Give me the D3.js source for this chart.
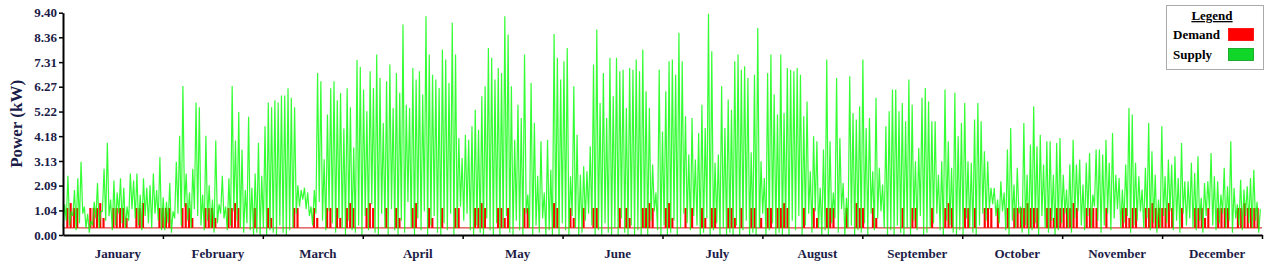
<!DOCTYPE html>
<html>
<head>
<meta charset="utf-8">
<script src="https://cdn.jsdelivr.net/npm/d3@7"></script>
<style>
  body { margin: 0; background: #fff; }
  svg { display: block; }
  text { font-family: "Liberation Serif", "Times New Roman", serif; }
</style>
</head>
<body>
<svg id="chart" width="1270" height="276"></svg>
<script>
const months = ["January", "February", "March", "April", "May", "June",
  "July", "August", "September", "October", "November", "December"];
const yTicks = [0, 1.04, 2.09, 3.13, 4.18, 5.22, 6.27, 7.31, 8.36, 9.40];

// daily supply peak (kW)
const supplyPeakJan = [1.3, 2.5, 1.0, 1.9, 2.4, 3.1, 1.2, 0.9, 0.6, 1.4, 2.2, 1.0, 2.8, 3.9, 1.5, 2.3, 1.8, 2.4, 2.0, 1.2, 2.6, 2.3, 2.6, 1.7, 2.4, 2.0, 2.1, 2.6, 1.9, 3.3, 1.6];
const supplyPeakFeb = [1.4, 2.2, 1.0, 3.1, 4.2, 6.3, 2.6, 1.8, 2.8, 5.6, 5.4, 1.7, 4.2, 2.1, 1.5, 4.0, 1.3, 2.5, 1.2, 2.4, 6.3, 4.0, 5.2, 3.6, 1.9, 5.0, 2.0, 2.6];
const supplyPeakMar = [3.9, 2.5, 4.6, 5.6, 5.4, 5.7, 5.6, 5.9, 5.9, 6.2, 5.8, 5.4, 2.1, 1.9, 2.0, 1.8, 1.2, 1.9, 6.85, 6.5, 3.2, 5.1, 6.2, 6.5, 5.7, 6.0, 4.5, 6.2, 5.4, 3.7, 7.4];
const supplyPeakApr = [7.1, 6.15, 5.23, 6.92, 6.22, 7.63, 6.64, 4.74, 6.5, 7.21, 5.37, 6.85, 6.01, 8.9, 5.51, 5.37, 7.06, 6.57, 6.92, 5.94, 9.25, 7.63, 6.78, 6.57, 6.22, 7.84, 7.42, 6.43, 8.97, 7.63];
const supplyPeakMay = [4.1, 3.26, 4.24, 4.03, 4.6, 5.3, 4.45, 5.87, 6.29, 7.91, 7.49, 6.57, 7.06, 6.85, 9.25, 8.48, 6.29, 4.03, 5.51, 4.95, 7.63, 1.71, 6.43, 4.74, 2.5, 3.96, 1.8, 4.03, 2.76, 8.5, 7.5];
const supplyPeakJun = [6.57, 7.35, 7.91, 2.48, 6.29, 4.24, 2.55, 2.91, 2.69, 3.75, 7.21, 8.69, 5.58, 6.85, 4.95, 7.49, 5.87, 7.49, 6.92, 6.99, 5.37, 7.06, 6.99, 7.42, 6.92, 7.84, 6.08, 5.37, 2.98, 1.8];
const supplyPeakJul = [6.99, 4.38, 6.08, 7.35, 7.42, 6.78, 8.55, 7.35, 5.02, 3.4, 4.95, 3.19, 4.31, 5.51, 4.52, 9.36, 7.77, 3.05, 3.4, 6.29, 4.52, 5.73, 5.3, 7.35, 7.63, 6.99, 7.14, 6.64, 3.5, 6.78, 8.75];
const supplyPeakAug = [3.12, 2.41, 6.85, 7.63, 5.94, 5.09, 7.63, 5.16, 7.06, 6.99, 6.92, 7.06, 6.78, 5.02, 5.65, 2.69, 4.17, 3.96, 2.0, 3.61, 7.42, 3.96, 1.8, 6.64, 4.1, 2.2, 1.57, 6.71, 5.16, 4.88, 5.44];
const supplyPeakSep = [7.42, 4.52, 4.95, 2.69, 5.8, 2.84, 2.13, 4.6, 5.23, 6.15, 6.15, 5.23, 5.58, 4.81, 6.57, 5.51, 3.12, 3.68, 5.8, 6.22, 5.65, 4.81, 4.81, 2.55, 3.12, 6.15, 3.96, 2.84, 6.01, 4.17];
const supplyPeakOct = [4.74, 5.58, 3.12, 3.05, 4.88, 5.58, 4.81, 3.54, 3.12, 2.0, 1.99, 1.5, 2.27, 1.8, 3.61, 4.52, 2.13, 2.84, 1.2, 4.74, 2.55, 3.82, 5.44, 3.75, 4.24, 2.98, 3.96, 3.96, 2.55, 3.89, 4.1];
const supplyPeakNov = [2.55, 1.92, 2.98, 4.03, 2.98, 3.19, 2.13, 3.05, 3.47, 1.71, 3.61, 3.61, 3.4, 4.03, 3.05, 4.31, 2.55, 2.41, 1.92, 2.98, 5.37, 5.09, 3.05, 2.48, 1.92, 2.84, 4.74, 3.54, 2.55, 1.5];
const supplyPeakDec = [4.6, 2.48, 3.19, 2.98, 3.33, 2.41, 3.89, 2.27, 2.27, 3.05, 2.62, 3.33, 1.57, 2.2, 2.27, 3.47, 2.48, 2.27, 1.71, 2.84, 2.06, 3.96, 1.99, 1.3, 2.34, 1.92, 2.06, 2.41, 2.76, 1.4, 1.1];

// daily supply low (kW)
const supplyLowJan = [0.3, 0.6, 0.4, 0.8, 0.2, 0.5, 0.9, 0.3, 0.1, 0.4, 0.7, 0.3, 1.0, 0.6, 0.8, 0.2, 0.4, 0.9, 0.5, 0.3, 0.6, 1.1, 0.7, 0.4, 0.2, 0.8, 0.5, 0.3, 0.9, 0.6, 0.2];
const supplyLowFeb = [0.2, 0.5, 0.1, 0.7, 0.9, 0.4, 1.2, 0.6, 0.3, 1.1, 0.8, 0.4, 0.2, 0.6, 0.3, 0.1, 0.5, 0.9, 0.7, 0.2, 0.4, 1.0, 0.6, 0.3, 0.1, 0.5, 0.2, 0.0];
const supplyLowMar = [0.1, 0.0, 0.3, 0.0, 0.2, 0.1, 0.0, 0.4, 0.1, 0.0, 0.2, 0.3, 0.9, 1.2, 1.5, 1.1, 0.8, 0.4, 0.9, 1.4, 0.6, 0.2, 1.0, 0.5, 0.1, 0.7, 0.3, 0.0, 0.6, 0.2, 0.1];
const supplyLowApr = [0.4, 0.0, 0.8, 0.2, 1.3, 0.1, 0.0, 0.9, 0.3, 0.0, 1.1, 0.2, 0.0, 0.6, 0.1, 1.4, 0.3, 0.0, 0.7, 0.2, 1.0, 0.0, 0.4, 0.8, 0.1, 0.0, 0.5, 0.2, 0.9, 0.0];
const supplyLowMay = [0.3, 1.2, 0.6, 0.9, 0.2, 0.0, 0.4, 0.1, 0.0, 0.7, 0.2, 0.0, 0.5, 0.0, 0.3, 0.8, 0.1, 0.0, 0.6, 0.2, 0.0, 0.9, 0.3, 0.0, 0.4, 0.1, 0.7, 0.0, 0.2, 0.0, 0.3];
const supplyLowJun = [0.0, 0.5, 0.2, 0.0, 0.8, 0.3, 0.0, 0.1, 0.6, 0.9, 0.4, 0.0, 0.2, 0.0, 0.5, 0.1, 0.0, 0.3, 0.0, 0.7, 0.1, 0.0, 0.4, 0.0, 0.2, 0.0, 0.3, 0.0, 0.6, 1.0];
const supplyLowJul = [0.2, 0.0, 0.4, 0.0, 0.1, 0.6, 0.0, 0.3, 0.9, 0.5, 0.2, 0.8, 0.4, 0.0, 0.1, 0.7, 0.0, 0.2, 0.5, 0.0, 0.3, 0.0, 0.1, 0.0, 0.4, 0.0, 0.2, 0.6, 0.0, 0.1, 0.0];
const supplyLowAug = [0.3, 0.9, 0.0, 0.2, 0.5, 0.0, 0.1, 0.0, 0.3, 0.0, 0.6, 0.2, 0.8, 0.0, 0.4, 0.9, 0.1, 1.0, 0.3, 0.0, 0.2, 0.0, 0.5, 0.7, 0.1, 1.1, 0.0, 0.3, 0.4, 0.0, 0.2];
const supplyLowSep = [0.1, 0.5, 0.0, 0.9, 0.2, 0.7, 1.0, 0.3, 0.0, 0.2, 0.0, 0.4, 0.1, 0.0, 0.3, 0.0, 0.6, 0.2, 0.8, 0.0, 0.1, 0.3, 0.5, 0.9, 0.2, 0.0, 0.6, 0.4, 0.1, 0.0];
const supplyLowOct = [0.2, 0.0, 0.7, 0.3, 0.1, 0.0, 0.4, 0.9, 0.6, 1.1, 1.3, 0.8, 0.5, 1.0, 0.2, 0.0, 0.6, 0.3, 0.9, 0.1, 0.4, 0.0, 0.2, 0.5, 0.0, 0.8, 0.3, 0.1, 0.6, 0.0, 0.2];
const supplyLowNov = [0.5, 0.9, 0.3, 0.1, 0.7, 1.0, 0.4, 0.2, 0.8, 0.3, 1.2, 0.6, 0.1, 0.4, 0.9, 0.2, 0.7, 1.1, 0.3, 0.5, 0.8, 0.1, 0.4, 0.6, 1.0, 0.3, 0.7, 0.2, 0.5, 0.1];
const supplyLowDec = [0.3, 0.8, 0.5, 1.0, 0.2, 0.6, 0.1, 0.9, 0.4, 0.7, 0.3, 0.2, 0.6, 0.1, 0.8, 1.1, 0.4, 0.2, 0.5, 0.9, 0.3, 0.6, 0.1, 0.7, 0.4, 0.2, 0.8, 0.5, 0.3, 0.6, 0.1];

// daily demand level (kW); 0.3 is the standing load
const demandBase = 0.3;
const demandJan = [0.3, 1.14, 1.35, 1.14, 1.14, 0.3, 0.3, 0.3, 1.14, 1.14, 1.14, 1.35, 0.72, 0.3, 0.3, 1.14, 1.14, 1.14, 1.14, 0.72, 0.3, 0.3, 1.14, 1.14, 1.35, 0.3, 0.3, 0.3, 0.3, 1.14, 1.14];
const demandFeb = [1.14, 1.14, 0.3, 0.3, 0.3, 1.14, 1.35, 1.14, 0.72, 0.3, 0.3, 0.3, 1.14, 1.14, 1.14, 0.72, 0.3, 0.3, 0.3, 1.14, 1.14, 1.35, 1.14, 0.3, 0.3, 0.3, 0.3, 1.14];
const demandMar = [0.3, 0.3, 0.3, 1.14, 0.72, 0.3, 0.3, 0.3, 0.3, 0.3, 0.3, 1.14, 1.14, 0.3, 0.3, 0.3, 0.3, 1.14, 0.72, 0.3, 0.3, 1.14, 1.14, 0.3, 1.14, 0.72, 0.3, 1.14, 1.35, 1.14, 0.3];
const demandApr = [0.3, 0.3, 1.14, 1.35, 1.14, 0.3, 0.3, 0.3, 1.14, 0.3, 0.3, 1.14, 0.72, 0.3, 0.3, 0.3, 1.14, 1.35, 0.3, 0.3, 0.3, 1.14, 0.72, 0.3, 0.3, 1.14, 0.3, 0.3, 0.3, 1.14];
const demandMay = [1.14, 0.3, 0.3, 0.3, 0.3, 1.14, 1.14, 1.35, 1.14, 0.3, 0.3, 0.3, 1.14, 1.14, 0.72, 1.14, 0.3, 0.3, 0.3, 0.3, 1.14, 1.14, 0.3, 0.3, 0.3, 0.3, 0.3, 0.3, 0.3, 1.35, 1.14];
const demandJun = [0.3, 0.3, 0.3, 1.14, 0.72, 0.3, 0.3, 1.14, 0.3, 0.3, 1.14, 1.14, 0.3, 0.3, 0.3, 0.3, 0.3, 0.3, 1.14, 0.3, 1.14, 0.72, 0.3, 0.3, 0.3, 1.14, 1.14, 1.35, 1.14, 0.3];
const demandJul = [0.3, 0.3, 1.14, 1.35, 0.72, 0.3, 0.3, 0.3, 1.14, 0.3, 1.14, 0.3, 0.3, 1.14, 0.72, 0.3, 1.14, 1.14, 0.3, 0.3, 0.3, 1.14, 1.14, 0.72, 0.3, 1.14, 0.3, 0.3, 1.14, 1.14, 0.3];
const demandAug = [0.72, 0.3, 1.14, 1.14, 0.3, 1.14, 1.14, 1.35, 1.14, 0.3, 0.3, 0.3, 0.3, 1.14, 0.3, 0.3, 1.14, 0.72, 0.3, 0.3, 1.14, 1.14, 1.14, 0.3, 0.3, 0.3, 1.14, 0.3, 0.3, 1.35, 1.14];
const demandSep = [1.14, 0.3, 0.3, 1.14, 0.72, 0.3, 0.3, 0.3, 0.3, 0.3, 0.3, 0.3, 1.14, 0.3, 0.3, 1.14, 1.14, 0.3, 0.3, 0.3, 0.3, 1.14, 0.3, 0.3, 0.3, 1.14, 1.35, 1.14, 0.3, 0.3];
const demandOct = [0.3, 1.14, 1.14, 0.3, 1.14, 0.3, 0.3, 1.14, 1.14, 1.14, 0.3, 1.14, 0.3, 0.3, 1.14, 0.3, 1.14, 1.14, 1.14, 1.14, 1.35, 1.14, 1.14, 1.14, 0.3, 0.3, 1.14, 1.14, 0.72, 1.14, 1.14];
const demandNov = [1.14, 1.14, 1.14, 1.35, 1.14, 0.3, 0.3, 1.14, 1.14, 1.14, 1.14, 0.3, 0.3, 1.14, 0.3, 0.3, 0.3, 0.3, 1.14, 1.14, 0.72, 1.14, 1.14, 0.3, 0.3, 1.14, 1.14, 1.35, 1.14, 1.14];
const demandDec = [1.14, 1.14, 1.35, 1.14, 0.3, 0.3, 1.14, 0.3, 0.3, 0.3, 1.14, 1.14, 1.14, 0.72, 1.14, 0.3, 0.3, 1.14, 1.14, 1.14, 1.14, 0.3, 0.3, 1.14, 1.14, 1.35, 1.14, 1.14, 1.14, 1.14, 0.3];

const supplyPeak = [].concat(supplyPeakJan, supplyPeakFeb, supplyPeakMar, supplyPeakApr, supplyPeakMay, supplyPeakJun,
  supplyPeakJul, supplyPeakAug, supplyPeakSep, supplyPeakOct, supplyPeakNov, supplyPeakDec);
const supplyLow = [].concat(supplyLowJan, supplyLowFeb, supplyLowMar, supplyLowApr, supplyLowMay, supplyLowJun,
  supplyLowJul, supplyLowAug, supplyLowSep, supplyLowOct, supplyLowNov, supplyLowDec);
const demand = [].concat(demandJan, demandFeb, demandMar, demandApr, demandMay, demandJun,
  demandJul, demandAug, demandSep, demandOct, demandNov, demandDec);

const svg = d3.select("#chart");
const plotLeft = 63, plotRight = 1262, plotTop = 12.7, plotBottom = 235;
const nDays = supplyPeak.length;
const navy = "#1b1b48";

const x = d3.scaleLinear().domain([0, nDays]).range([plotLeft, plotRight]);
const y = d3.scaleLinear().domain([0, 9.4]).range([plotBottom, plotTop]);
const xDay = d3.scaleBand().domain(d3.range(nDays)).range([plotLeft, plotRight]).paddingInner(0.35);
const xMonth = d3.scaleLinear().domain([0, months.length]).range([plotLeft, plotRight]);
const xBand = d3.scaleBand().domain(months).range([plotLeft, plotRight]);

// demand: standing load line plus a bar for each day above it
svg.append("line")
  .attr("x1", x(0)).attr("x2", x(nDays))
  .attr("y1", y(demandBase)).attr("y2", y(demandBase))
  .attr("stroke", "#d01010")
  .attr("stroke-width", 1);

svg.append("g")
  .selectAll("rect")
  .data(demand.map((v, i) => ({ i, v })).filter((d) => d.v > demandBase))
  .join("rect")
  .attr("x", (d) => xDay(d.i))
  .attr("width", xDay.bandwidth())
  .attr("y", (d) => y(d.v))
  .attr("height", (d) => y(demandBase) - y(d.v))
  .attr("fill", "#ff0000");

// supply: night low then midday peak, one pair per day
const supplyPts = [];
supplyPeak.forEach((p, i) => {
  supplyPts.push({ t: i, v: supplyLow[i] });
  supplyPts.push({ t: i + 0.5, v: p });
});

svg.append("path")
  .datum(supplyPts)
  .attr("fill", "none")
  .attr("stroke", "#00ff00")
  .attr("stroke-opacity", 0.8)
  .attr("stroke-width", 1.2)
  .attr("d", d3.line()
    .x((d) => x(d.t))
    .y((d) => y(d.v)));

// y axis
const yAxis = svg.append("g")
  .attr("transform", `translate(${plotLeft},0)`)
  .call(d3.axisLeft(y).tickValues(yTicks).tickFormat(d3.format(".2f")).tickSize(4).tickSizeOuter(0));
yAxis.select(".domain").attr("stroke", "#000").attr("stroke-width", 2);
yAxis.selectAll(".tick line").attr("stroke", "#000").attr("stroke-width", 1.5);
yAxis.selectAll(".tick text")
  .attr("x", -6)
  .attr("fill", navy)
  .style("font-family", "'Liberation Serif', serif")
  .style("font-size", "13px")
  .style("font-weight", "bold");

// x axis: ticks on month boundaries, names between
const xAxis = svg.append("g")
  .attr("transform", `translate(0,${plotBottom})`)
  .call(d3.axisBottom(xMonth).tickValues(d3.range(1, months.length + 1)).tickFormat("").tickSize(4).tickSizeOuter(0));
xAxis.select(".domain").attr("stroke", "#000").attr("stroke-width", 2);
xAxis.selectAll(".tick line").attr("stroke", "#000").attr("stroke-width", 1.5);

svg.append("g")
  .selectAll("text")
  .data(months)
  .join("text")
  .attr("x", (d) => xBand(d) + xBand.bandwidth() / 2 + 5)
  .attr("y", 258)
  .attr("text-anchor", "middle")
  .attr("fill", navy)
  .style("font-size", "13px")
  .style("font-weight", "bold")
  .text((d) => d);

svg.append("text")
  .attr("transform", `translate(22,${(plotTop + plotBottom) / 2}) rotate(-90)`)
  .attr("text-anchor", "middle")
  .attr("fill", navy)
  .style("font-size", "17px")
  .style("font-weight", "bold")
  .text("Power (kW)");

// legend
const legend = svg.append("g");
legend.append("rect")
  .attr("x", 1166.5).attr("y", 5.5).attr("width", 97).attr("height", 64)
  .attr("fill", "#fff").attr("stroke", "#aaa");
legend.append("text")
  .attr("x", 1212).attr("y", 20)
  .attr("text-anchor", "middle")
  .style("font-size", "13px").style("font-weight", "bold")
  .style("text-decoration", "underline")
  .text("Legend");
const legendItems = [
  { name: "Demand", color: "#ff0000", stroke: "#ff0000" },
  { name: "Supply", color: "#11d62a", stroke: "#0a9a1a" }
];
legendItems.forEach((d, i) => {
  legend.append("text")
    .attr("x", 1173).attr("y", 39 + i * 20)
    .style("font-size", "13px").style("font-weight", "bold")
    .text(d.name);
  legend.append("rect")
    .attr("x", 1228.5).attr("y", 28.5 + i * 20).attr("width", 25).attr("height", 12)
    .attr("fill", d.color).attr("stroke", d.stroke).attr("stroke-width", 0.8);
});
</script>
</body>
</html>
